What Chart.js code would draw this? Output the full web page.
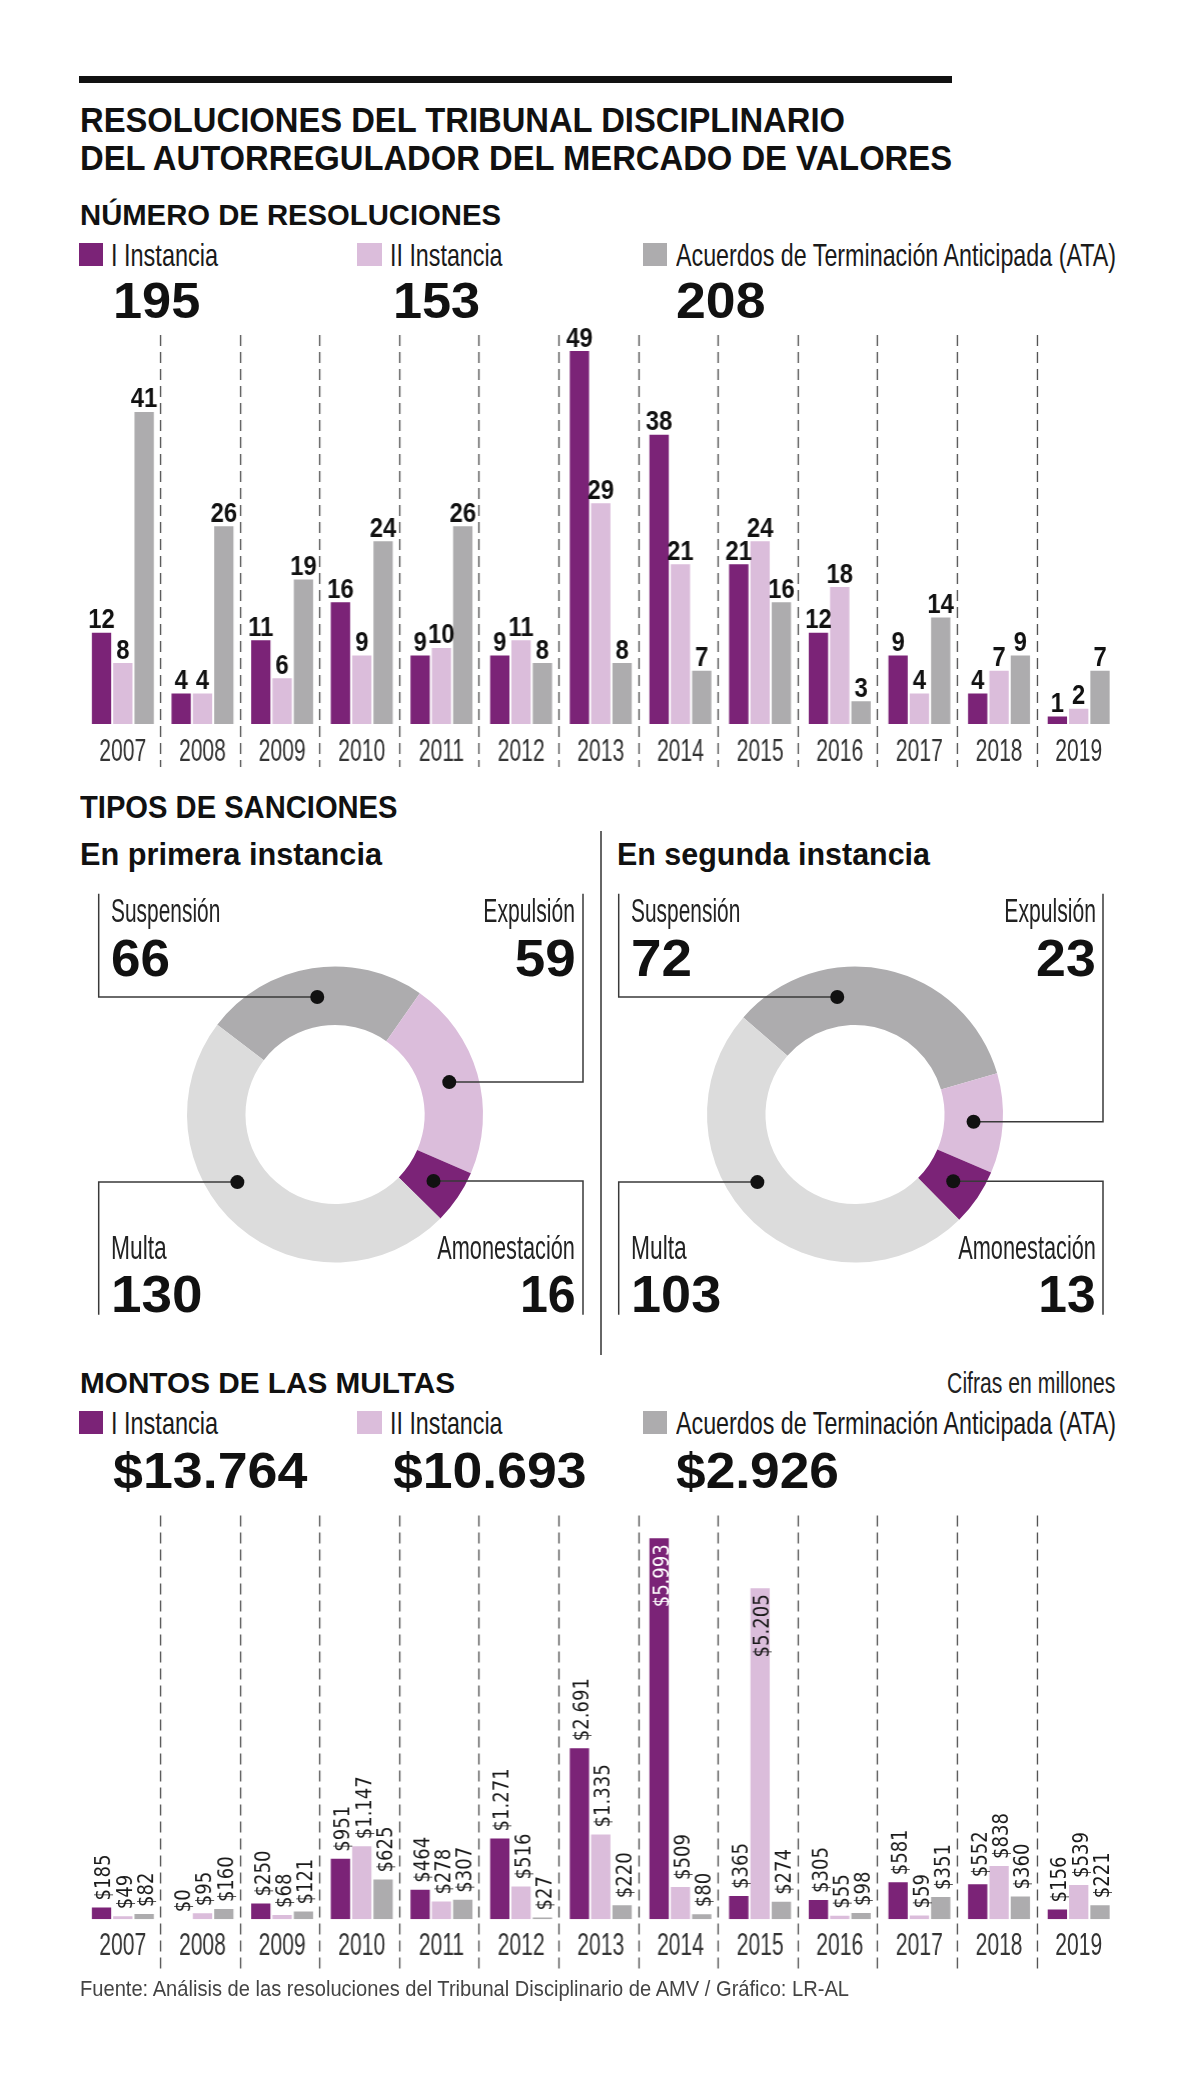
<!DOCTYPE html>
<html>
<head>
<meta charset="utf-8">
<script src="https://cdn.jsdelivr.net/npm/chart.js@4.4.0/dist/chart.umd.min.js"></script>
<style>
html, body { margin: 0; padding: 0; background: #fff; }
#page { position: relative; width: 1200px; height: 2077px; overflow: hidden; font-family: "Liberation Sans", Arial, sans-serif; color: #111; }
.t { position: absolute; white-space: nowrap; line-height: 1; }
.box { position: absolute; }
</style>
</head>
<body>
<div id="page">
  <div class="box" style="left:79px;top:76px;width:873px;height:7px;background:#111"></div>
  <div class="box" style="left:600px;top:831px;width:1.5px;height:524px;background:#666"></div>
  <div class="box" style="left:83px;top:315px;width:1034.5px;height:460px"><canvas id="c1"></canvas></div>
  <div class="box" style="left:88px;top:880px;width:510px;height:460px"><canvas id="c2"></canvas></div>
  <div class="box" style="left:608.4px;top:880px;width:510px;height:460px"><canvas id="c3"></canvas></div>
  <div class="box" style="left:83px;top:1505px;width:1034.5px;height:480px"><canvas id="c4"></canvas></div>
</div>
<script>
// data
const years = ['2007', '2008', '2009', '2010', '2011', '2012', '2013', '2014', '2015', '2016', '2017', '2018', '2019'];
const seriesNames = ['I Instancia', 'II Instancia', 'Acuerdos de Terminación Anticipada (ATA)'];
const resI = [12, 4, 11, 16, 9, 9, 49, 38, 21, 12, 9, 4, 1];
const resII = [8, 4, 6, 9, 10, 11, 29, 21, 24, 18, 4, 7, 2];
const resATA = [41, 26, 19, 24, 26, 8, 8, 7, 16, 3, 14, 9, 7];
const multI = [185, 0, 250, 951, 464, 1271, 2691, 5993, 365, 305, 581, 552, 156];
const multII = [49, 95, 68, 1147, 278, 516, 1335, 509, 5205, 55, 59, 838, 539];
const multATA = [82, 160, 121, 625, 307, 27, 220, 80, 274, 98, 351, 360, 221];
const tipos = ['Suspensión', 'Expulsión', 'Amonestación', 'Multa'];
const primera = [66, 59, 16, 130];
const segunda = [72, 23, 13, 103];

const barColors = ['#7b2377', '#dbbddb', '#adacae'];
const donutColors = ['#adacae', '#dbbddb', '#7b2377', '#dcdcdc'];
const page = document.getElementById('page');

const sum = a => a.reduce((s, v) => s + v, 0);
const money = n => '$' + String(n).replace(/\B(?=(\d{3})+(?!\d))/g, '.');

// places a text with its baseline at y, squeezed to width w
function put(str, x, base, size, w, o) {
    o = o || {};
    const el = document.createElement('div');
    el.className = 't';
    el.textContent = str;
    el.style.fontSize = size + 'px';
    el.style.fontWeight = o.bold ? '700' : '400';
    el.style.color = o.color || '#111';
    el.style.top = (base - 0.8465 * size) + 'px';
    page.appendChild(el);
    const nat = el.getBoundingClientRect().width;
    if (o.right) {
        el.style.left = (x - nat) + 'px';
        el.style.transformOrigin = 'right center';
    } else {
        el.style.left = x + 'px';
        el.style.transformOrigin = 'left center';
    }
    el.style.transform = 'scaleX(' + (w / nat) + ')';
    return el;
}

function square(x, y, c) {
    const s = document.createElement('div');
    s.className = 'box';
    s.style.cssText += 'left:' + x + 'px;top:' + y + 'px;width:24.5px;height:23px;background:' + c;
    page.appendChild(s);
}

// header texts
put('RESOLUCIONES DEL TRIBUNAL DISCIPLINARIO', 80.3, 132, 35, 765, {bold: true});
put('DEL AUTORREGULADOR DEL MERCADO DE VALORES', 80.3, 170, 35, 872, {bold: true});
put('NÚMERO DE RESOLUCIONES', 80.3, 225, 30, 421, {bold: true});

const legX = [78.8, 357.3, 642.7];
const legTextX = [111, 390, 675.6];
const legW = [107, 112.5, 440];
function legend(top, base) {
    seriesNames.forEach((n, i) => {
        square(legX[i], top, barColors[i]);
        put(n, legTextX[i], base, 30.5, legW[i], {color: '#1a1a1a'});
    });
}
legend(243, 266);
const totX = [113.2, 392.5, 675.6];
[resI, resII, resATA].forEach((s, i) => put(String(sum(s)), totX[i], 318, 50, [87.3, 87.2, 89.5][i], {bold: true}));

put('TIPOS DE SANCIONES', 80.3, 818.6, 31, 317.5, {bold: true});
put('En primera instancia', 80.3, 865, 31, 302, {bold: true});
put('En segunda instancia', 616.7, 865, 31, 313, {bold: true});

// donut texts
function donutText(vals, left, right, w) {
    put(tipos[0], left, 922.3, 32.5, 109.3, {color: '#222'});
    put(String(vals[0]), left, 976, 51, w[0], {bold: true});
    put(tipos[1], right, 922.3, 32.5, 91.6, {right: true, color: '#222'});
    put(String(vals[1]), right, 976, 51, w[1], {bold: true, right: true});
    put(tipos[3], left, 1259.3, 32.5, 55.8, {color: '#222'});
    put(String(vals[3]), left, 1312.2, 51, w[3], {bold: true});
    put(tipos[2], right, 1259.3, 32.5, 137.7, {right: true, color: '#222'});
    put(String(vals[2]), right, 1312.2, 51, w[2], {bold: true, right: true});
}
donutText(primera, 111, 575.4, [59, 61, 55.8, 91.6]);
donutText(segunda, 631.2, 1095.6, [61, 59.7, 57.4, 90.2]);

put('MONTOS DE LAS MULTAS', 80.3, 1393, 30, 375, {bold: true});
put('Cifras en millones', 1115.5, 1393, 30, 168.3, {right: true, color: '#222'});
legend(1411, 1434);
[multI, multII, multATA].forEach((s, i) => put(money(sum(s)), totX[i], 1488, 50, [194.4, 193.6, 163][i], {bold: true}));

put('Fuente: Análisis de las resoluciones del Tribunal Disciplinario de AMV / Gráfico: LR-AL', 80.3, 1997.3, 21.5, 769, {color: '#444'});

// canvas text squeezed horizontally
function sqText(ctx, s, x, y, sx) {
    ctx.save();
    ctx.translate(x, y);
    ctx.scale(sx, 1);
    ctx.fillText(s, 0, 0);
    ctx.restore();
}

const barDeco = {
    id: 'barDeco',
    beforeDatasetsDraw(chart, args, opts) {
        const ctx = chart.ctx, xs = chart.scales.x;
        ctx.save();
        ctx.strokeStyle = '#4a4a4a';
        ctx.lineWidth = 1.3;
        ctx.setLineDash([11, 6]);
        for (let i = 1; i < years.length; i++) {
            const px = Math.round((xs.getPixelForValue(i - 1) + xs.getPixelForValue(i)) / 2 - 2.4) + 0.5;
            ctx.beginPath();
            ctx.moveTo(px, opts.dashTop);
            ctx.lineTo(px, opts.dashBottom);
            ctx.stroke();
        }
        ctx.restore();
    },
    afterDatasetsDraw(chart, args, opts) {
        const ctx = chart.ctx, xs = chart.scales.x;
        ctx.save();
        ctx.fillStyle = '#333';
        ctx.font = '31px "Liberation Sans", Arial, sans-serif';
        ctx.textAlign = 'center';
        ctx.textBaseline = 'alphabetic';
        years.forEach((y, i) => sqText(ctx, y, xs.getPixelForValue(i), opts.yearBase, 0.68));
        chart.data.datasets.forEach((ds, di) => {
            chart.getDatasetMeta(di).data.forEach((bar, i) => {
                const v = ds.data[i];
                if (opts.rotated) {
                    // vertical labels, reading bottom to top
                    ctx.save();
                    ctx.font = '21px "DejaVu Sans", sans-serif';
                    ctx.textBaseline = 'alphabetic';
                    const inside = v > 4000;
                    ctx.fillStyle = inside && di === 0 ? '#fff' : '#1a1a1a';
                    ctx.translate(bar.x + 9, inside ? bar.y + 6 : bar.y - 7);
                    ctx.rotate(-Math.PI / 2);
                    ctx.scale(0.86, 1);
                    ctx.textAlign = inside ? 'right' : 'left';
                    ctx.fillText(money(v), 0, 0);
                    ctx.restore();
                } else {
                    ctx.fillStyle = '#111';
                    ctx.font = 'bold 28px "Liberation Sans", Arial, sans-serif';
                    sqText(ctx, String(v), bar.x, bar.y - 4.5, 0.85);
                }
            });
        });
        ctx.restore();
    }
};

function barChart(id, sets, max, pad, deco) {
    return new Chart(document.getElementById(id), {
        type: 'bar',
        data: {
            labels: years,
            datasets: sets.map((d, i) => ({
                label: seriesNames[i],
                data: d,
                backgroundColor: barColors[i],
                borderWidth: 0,
                categoryPercentage: 0.803,
                barPercentage: 0.906
            }))
        },
        options: {
            responsive: true,
            maintainAspectRatio: false,
            animation: false,
            events: [],
            layout: {padding: pad},
            scales: {
                x: {display: false},
                y: {display: false, min: 0, max: max}
            },
            plugins: {legend: {display: false}, tooltip: {enabled: false}, barDeco: deco}
        },
        plugins: [barDeco]
    });
}

barChart('c1', [resI, resII, resATA], 50, {top: 28.5, bottom: 51, left: 0, right: 0},
    {dashTop: 20, dashBottom: 452, yearBase: 445.7, rotated: false});
barChart('c4', [multI, multII, multATA], 6200, {top: 20, bottom: 65.7, left: 0, right: 0},
    {dashTop: 10.5, dashBottom: 465, yearBase: 450, rotated: true});

// callout lines + dots for the donuts (angle in degrees from the top, or the slice middle)
const callouts = {
    id: 'callouts',
    afterDatasetsDraw(chart, args, opts) {
        const ctx = chart.ctx, arcs = chart.getDatasetMeta(0).data;
        ctx.save();
        ctx.strokeStyle = '#3a3a3a';
        ctx.fillStyle = '#111';
        ctx.lineWidth = 1.5;
        opts.items.forEach((it, i) => {
            const a = arcs[i];
            const rm = (a.innerRadius + a.outerRadius) / 2;
            const ang = it.angle != null ? (it.angle - 90) * Math.PI / 180 : (a.startAngle + a.endAngle) / 2;
            const px = a.x + rm * Math.cos(ang);
            const py = a.y + rm * Math.sin(ang);
            const edge = it.side < 0 ? opts.left : opts.right;
            ctx.beginPath();
            ctx.moveTo(px, py);
            ctx.lineTo(edge, py);
            ctx.lineTo(edge, it.end);
            ctx.stroke();
            ctx.beginPath();
            ctx.arc(px, py, 7, 0, Math.PI * 2);
            ctx.fill();
        });
        ctx.restore();
    }
};

function donut(id, vals, rot) {
    return new Chart(document.getElementById(id), {
        type: 'doughnut',
        data: {
            labels: tipos,
            datasets: [{data: vals, backgroundColor: donutColors, borderWidth: 0}]
        },
        options: {
            responsive: true,
            maintainAspectRatio: false,
            animation: false,
            events: [],
            cutout: '60.5%',
            rotation: rot,
            layout: {padding: {left: 99, right: 115, top: 86.5, bottom: 77.5}},
            plugins: {
                legend: {display: false},
                tooltip: {enabled: false},
                callouts: {
                    left: 10.7, right: 495,
                    items: [
                        {angle: -8.6, side: -1, end: 13.7},
                        {side: 1, end: 13.7},
                        {side: 1, end: 434.7},
                        {angle: 235.3, side: -1, end: 434.7}
                    ]
                }
            }
        },
        plugins: [callouts]
    });
}

donut('c2', primera, -52.7);
donut('c3', segunda, -49);
</script>
</body>
</html>
